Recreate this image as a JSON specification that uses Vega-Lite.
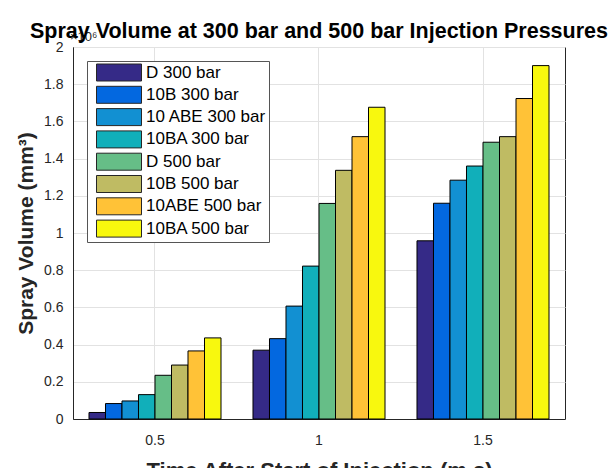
{
  "$schema": "https://vega.github.io/schema/vega-lite/v6.json",
  "width": 492,
  "height": 372,
  "autosize": "none",
  "padding": {"left": 73, "top": 47, "right": 44, "bottom": 49},
  "background": "white",
  "title": {
    "text": "Spray Volume at 300 bar and 500 bar Injection Pressures",
    "font": "Liberation Sans",
    "fontSize": 21.5,
    "fontWeight": "bold",
    "color": "black",
    "anchor": "middle",
    "offset": -11
  },
  "data": {
    "values": [
      {"time": "0.5", "series": "D 300 bar", "value": 0.035},
      {"time": "0.5", "series": "10B 300 bar", "value": 0.083},
      {"time": "0.5", "series": "10 ABE 300 bar", "value": 0.097},
      {"time": "0.5", "series": "10BA 300 bar", "value": 0.131},
      {"time": "0.5", "series": "D 500 bar", "value": 0.235},
      {"time": "0.5", "series": "10B 500 bar", "value": 0.29},
      {"time": "0.5", "series": "10ABE 500 bar", "value": 0.366},
      {"time": "0.5", "series": "10BA 500 bar", "value": 0.436},
      {"time": "1", "series": "D 300 bar", "value": 0.37},
      {"time": "1", "series": "10B 300 bar", "value": 0.432},
      {"time": "1", "series": "10 ABE 300 bar", "value": 0.607},
      {"time": "1", "series": "10BA 300 bar", "value": 0.822},
      {"time": "1", "series": "D 500 bar", "value": 1.159},
      {"time": "1", "series": "10B 500 bar", "value": 1.337},
      {"time": "1", "series": "10ABE 500 bar", "value": 1.518},
      {"time": "1", "series": "10BA 500 bar", "value": 1.676},
      {"time": "1.5", "series": "D 300 bar", "value": 0.958},
      {"time": "1.5", "series": "10B 300 bar", "value": 1.16},
      {"time": "1.5", "series": "10 ABE 300 bar", "value": 1.284},
      {"time": "1.5", "series": "10BA 300 bar", "value": 1.36},
      {"time": "1.5", "series": "D 500 bar", "value": 1.488},
      {"time": "1.5", "series": "10B 500 bar", "value": 1.518},
      {"time": "1.5", "series": "10ABE 500 bar", "value": 1.723},
      {"time": "1.5", "series": "10BA 500 bar", "value": 1.9}
    ]
  },
  "layer": [
    {
      "mark": {"type": "bar", "stroke": "black", "strokeWidth": 1},
      "encoding": {
        "x": {
          "field": "time",
          "type": "nominal",
          "sort": ["0.5", "1", "1.5"],
          "scale": {"paddingInner": 0.195, "paddingOuter": 0.0975},
          "axis": {
            "title": "Time After Start of Injection (m s)",
            "titleFont": "Liberation Sans",
            "titleFontSize": 22,
            "titleFontWeight": "bold",
            "titleColor": "#262626",
            "titlePadding": 13,
            "labelFont": "Liberation Sans",
            "labelFontSize": 14,
            "labelColor": "#262626",
            "labelAngle": 0,
            "labelPadding": 14,
            "ticks": false,
            "grid": true,
            "gridColor": "#e2e2e2",
            "bandPosition": 0.5,
            "domainColor": "#262626"
          }
        },
        "xOffset": {
          "field": "series",
          "type": "nominal",
          "sort": ["D 300 bar", "10B 300 bar", "10 ABE 300 bar", "10BA 300 bar", "D 500 bar", "10B 500 bar", "10ABE 500 bar", "10BA 500 bar"],
          "scale": {"paddingInner": 0, "paddingOuter": 0}
        },
        "y": {
          "field": "value",
          "type": "quantitative",
          "scale": {"domain": [0, 2], "nice": false},
          "axis": {
            "title": "Spray Volume (mm³)",
            "titleFont": "Liberation Sans",
            "titleFontSize": 21,
            "titleFontWeight": "bold",
            "titleColor": "#262626",
            "titlePadding": 7,
            "values": [0, 0.2, 0.4, 0.6, 0.8, 1, 1.2, 1.4, 1.6, 1.8, 2],
            "tickCount": 20,
            "format": "~g",
            "labelOverlap": false,
            "labelFont": "Liberation Sans",
            "labelFontSize": 14,
            "labelColor": "#262626",
            "labelPadding": 10,
            "ticks": false,
            "grid": true,
            "gridColor": "#e2e2e2",
            "domainColor": "#262626"
          }
        },
        "color": {
          "field": "series",
          "type": "nominal",
          "scale": {
            "domain": ["D 300 bar", "10B 300 bar", "10 ABE 300 bar", "10BA 300 bar", "D 500 bar", "10B 500 bar", "10ABE 500 bar", "10BA 500 bar"],
            "range": ["#352a87", "#0368e0", "#1290d2", "#11afba", "#66be87", "#bfbb63", "#ffc237", "#f8f80e"]
          },
          "legend": {
            "title": null,
            "orient": "top-left",
            "offset": 14,
            "fillColor": "white",
            "strokeColor": "#555555",
            "padding": 2.5,
            "labelFont": "Liberation Sans",
            "labelFontSize": 17,
            "labelColor": "black",
            "symbolType": "M-0.235,-1H5.06V1H-0.235Z",
            "symbolSize": 289,
            "symbolStrokeColor": "#262626",
            "symbolStrokeWidth": 1,
            "symbolOpacity": 1,
            "labelOffset": 38.5,
            "rowPadding": 0.3
          }
        }
      }
    },
    {
      "data": {"values": [{}]},
      "mark": {"type": "text", "text": "×10⁶", "font": "Liberation Sans", "fontSize": 13, "color": "#262626", "align": "left", "baseline": "bottom", "dx": -85, "dy": -3},
      "encoding": {
        "x": {"datum": "0.5"},
        "y": {"datum": 2}
      }
    }
  ],
  "config": {
    "view": {"stroke": "#262626", "strokeWidth": 1}
  }
}
